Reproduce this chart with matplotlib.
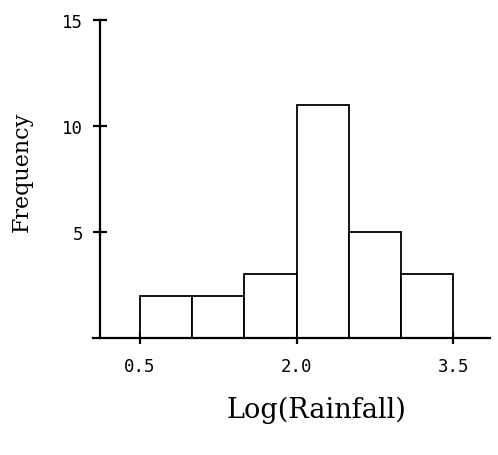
import matplotlib
matplotlib.use("Agg")
import matplotlib.pyplot as plt
import numpy as np

# histogram of log rainfall
bin_edges = [0.5, 1.0, 1.5, 2.0, 2.5, 3.0, 3.5]
counts = [2, 2, 3, 11, 5, 3]
x_ticks = [0.5, 2.0, 3.5]
x_tick_labels = ["0.5", "2.0", "3.5"]
y_ticks = [5, 10, 15]
y_tick_labels = ["5", "10", "15"]

fig = plt.figure(figsize=(4.98, 4.56), dpi=100)
ax = fig.add_axes([93 / 498, 117 / 456, 397 / 498, 318 / 456])

edges = np.array(bin_edges)
ax.bar(edges[:-1], counts, width=np.diff(edges), align="edge",
       facecolor="white", edgecolor="black", linewidth=1.3, zorder=3)

ax.set_xlim(0.05, 3.85)
ax.set_ylim(0, 15)

for s in ("top", "right"):
    ax.spines[s].set_visible(False)
ax.spines["left"].set_position(("data", 0.117))
ax.spines["left"].set_linewidth(1.6)
ax.spines["bottom"].set_linewidth(1.6)
ax.spines["left"].set_zorder(4)
ax.spines["bottom"].set_zorder(4)

ax.set_xticks(x_ticks)
ax.set_xticklabels(x_tick_labels, fontfamily="DejaVu Sans Mono", fontsize=12.5)
ax.set_yticks(y_ticks)
ax.set_yticklabels(y_tick_labels, fontfamily="DejaVu Sans Mono", fontsize=12.5)
ax.tick_params(axis="y", direction="inout", length=10, width=1.6, pad=7)
ax.tick_params(axis="x", direction="inout", length=9, width=1.6, pad=9)

fig.text(316 / 498, 1 - 410 / 456, "Log(Rainfall)", family="DejaVu Serif",
         fontsize=19.5, ha="center", va="center")
fig.text(22 / 498, 1 - 172 / 456, "Frequency", family="DejaVu Serif",
         fontsize=16, ha="center", va="center", rotation=90)

fig.savefig("out.png", dpi=100)
